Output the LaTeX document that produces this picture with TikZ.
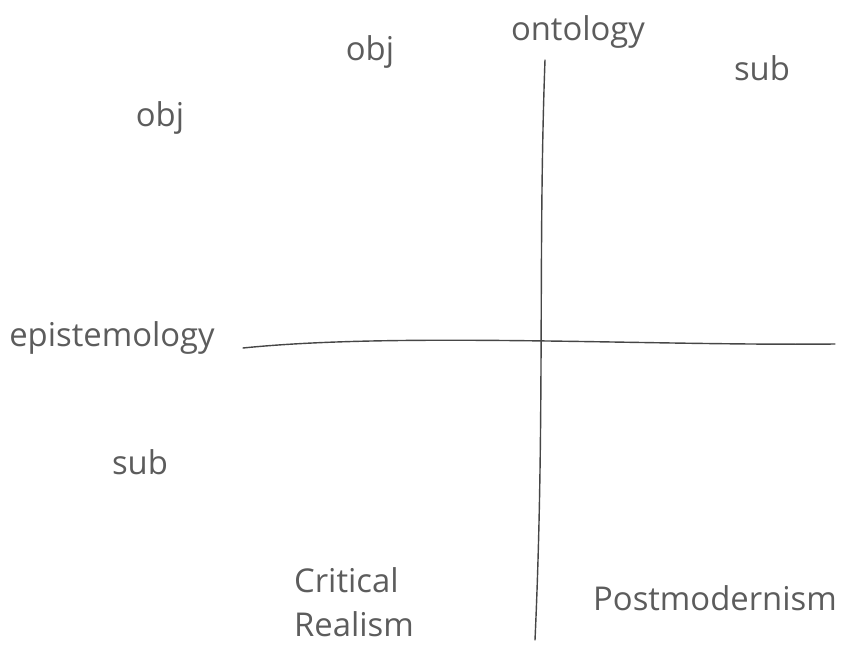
\documentclass[tikz,border=0pt]{standalone}
\usepackage{fontspec}
\setmainfont{Open Sans}
\usetikzlibrary{positioning}
\definecolor{pencil}{RGB}{92,92,92}
\definecolor{pencildark}{RGB}{70,70,70}

\begin{document}
\begin{tikzpicture}[
  x=0.03cm, y=-0.03cm,
  handlabel/.style={
    text=pencil,
    font=\fontsize{28}{38}\selectfont,
    inner sep=1pt,
    align=left
  },
  axisline/.style={
    draw=pencildark,
    line width=1.2pt,
    line cap=round
  }
]
  \useasboundingbox (0,0) rectangle (863,647);

  % Axis end points
  \coordinate (ontotop) at (545,60);
  \coordinate (ontobot) at (535,640);
  \coordinate (epileft) at (243,348);
  \coordinate (epiright) at (835,344);

  % Axes
  \draw[axisline] (ontotop) .. controls (538,250) and (545,420) .. (ontobot);
  \draw[axisline] (epileft) .. controls (400,332) and (650,346) .. (epiright);

  % Axis names
  \node[handlabel] (ontology) at (578,32) {ontology};
  \node[handlabel] (epistemology) at (112,338) {epistemology};

  % Poles
  \node[handlabel] (objtop) at (370,52) {obj};
  \node[handlabel] (subtop) at (762,68) {sub};
  \node[handlabel] (objleft) at (160,118) {obj};
  \node[handlabel] (subleft) at (140,462) {sub};

  % Quadrant positions
  \node[handlabel] (critical) at (354,602) {Critical\\Realism};
  \node[handlabel] (postmod) at (715,598) {Postmodernism};
\end{tikzpicture}
\end{document}
